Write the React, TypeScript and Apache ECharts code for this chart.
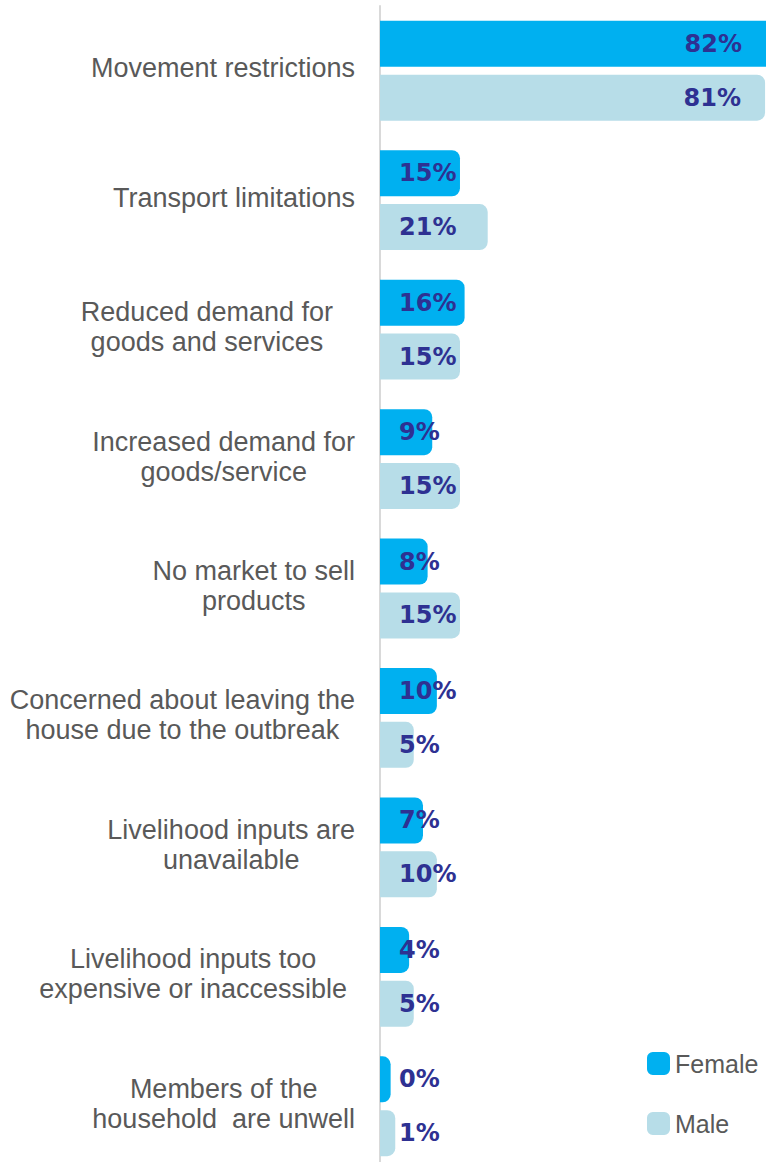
import React, { useEffect, useRef } from "react";
import * as echarts from "echarts";

const categories = [
  "Movement restrictions",
  "Transport limitations",
  "Reduced demand for\ngoods and services",
  "Increased demand for\ngoods/service",
  "No market to sell\nproducts",
  "Concerned about leaving the\nhouse due to the outbreak",
  "Livelihood inputs are\nunavailable",
  "Livelihood inputs too\nexpensive or inaccessible",
  "Members of the\nhousehold  are unwell",
];
const female = [82, 15, 16, 9, 8, 10, 7, 4, 0];
const male = [81, 21, 15, 15, 15, 5, 10, 5, 1];
const seriesNames = ["Female", "Male"];

const FEMALE_COLOR = "#00b0f0";
const MALE_COLOR = "#b7dde8";
const LABEL_COLOR = "#2e3192";
const TEXT_COLOR = "#595959";

const X_MIN = -2.3;
const X_MAX = 81.2;

export default function App() {
  const ref = useRef<HTMLDivElement>(null);
  useEffect(() => {
    if (!ref.current) return;
    const chart = echarts.init(ref.current, null, { renderer: "svg" });
    const labelBase = {
      show: true,
      position: "insideLeft",
      distance: 19,
      formatter: "{c}%",
      color: LABEL_COLOR,
      fontFamily: "DejaVu Sans",
      fontWeight: "bold",
      fontSize: 24,
    };
    const mkData = (vals: number[]) =>
      vals.map((v, i) => {
        if (i !== 0) return v;
        const item: any = {
          value: v,
          label: { position: "insideRight", distance: 24 },
        };
        if (v > X_MAX) item.itemStyle = { borderRadius: 0 };
        return item;
      });
    const mkSeries = (name: string, vals: number[], color: string) => ({
      name,
      type: "bar",
      data: mkData(vals),
      barWidth: 46,
      barGap: "17%",
      itemStyle: {
        color,
        borderRadius: [0, 8, 8, 0],
      },
      label: labelBase,
    });
    const labelPadRight: Record<number, number> = { 2: 22, 7: 8 };
    chart.setOption({
      animation: false,
      grid: { left: 380, right: 0, top: 6, height: 1165, containLabel: false },
      legend: {
        orient: "vertical",
        left: 647,
        top: 1051,
        padding: 0,
        itemWidth: 23,
        itemHeight: 23,
        itemGap: 35,
        icon: "roundRect",
        itemStyle: { borderWidth: 0 },
        textStyle: {
          color: TEXT_COLOR,
          fontSize: 25,
          fontFamily: "Liberation Sans",
        },
        data: seriesNames,
      },
      xAxis: {
        type: "value",
        min: X_MIN,
        max: X_MAX,
        startValue: X_MIN,
        show: false,
        splitLine: { show: false },
      },
      yAxis: {
        type: "category",
        inverse: true,
        data: categories.map((c, i) => ({
          value: c,
          textStyle: { padding: [0, labelPadRight[i] || 0, 5, 0] },
        })),
        axisTick: { show: false },
        axisLine: {
          show: true,
          onZero: false,
          lineStyle: { color: "#d9d9d9", width: 2 },
        },
        axisLabel: {
          margin: 25,
          align: "right",
          formatter: (v: string) =>
            v
              .split("\n")
              .map((l) => `{c|${l}}`)
              .join("\n"),
          rich: {
            c: {
              align: "center",
              fontSize: 27,
              lineHeight: 30,
              color: TEXT_COLOR,
              fontFamily: "Liberation Sans",
            },
          },
        },
      },
      series: [
        mkSeries(seriesNames[0], female, FEMALE_COLOR),
        mkSeries(seriesNames[1], male, MALE_COLOR),
      ],
    });
    return () => chart.dispose();
  }, []);
  return (
    <div
      style={{
        position: "absolute",
        left: 0,
        top: 0,
        width: 766,
        height: 1162,
        overflow: "hidden",
      }}
    >
      <div ref={ref} style={{ width: 766, height: 1172 }} />
    </div>
  );
}
